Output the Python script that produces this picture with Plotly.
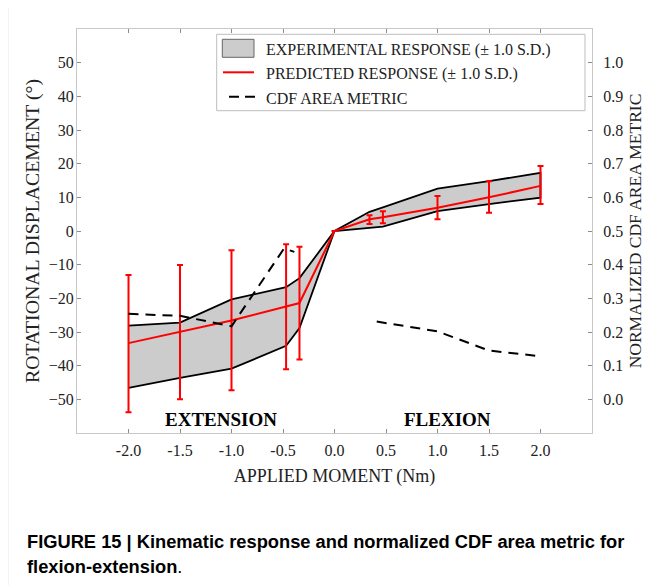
import plotly.graph_objects as go

# ---- data ----
moment = [-2.0, -1.5, -1.0, -0.47, -0.34, 0.0, 0.34, 0.47, 1.0, 1.5, 2.0]
exp_upper = [-28.1, -27.2, -20.3, -16.7, -14.0, 0.0, 5.7, 7.0, 12.6, 14.8, 17.3]
exp_lower = [-46.6, -43.6, -40.9, -34.1, -28.8, 0.0, 1.0, 1.3, 5.9, 8.0, 9.9]
pred_mean = [-33.3, -30.0, -26.6, -22.4, -21.4, 0.0, 3.5, 4.1, 6.9, 10.0, 13.4]
pred_upper = [-13.1, -10.1, -5.7, -3.9, -4.7, None, 4.7, 5.9, 10.4, 14.8, 19.3]
pred_lower = [-53.8, -50.0, -47.3, -41.1, -38.2, None, 2.1, 2.3, 3.5, 5.4, 8.0]
cdf_moment = [-2.0, -1.5, -1.0, -0.49, -0.39, None, 0.41, 1.0, 1.5, 2.0]
cdf_metric = [0.254, 0.248, 0.217, 0.448, 0.438, None, 0.231, 0.202, 0.145, 0.128]

x_ticks = [-2.0, -1.5, -1.0, -0.5, 0.0, 0.5, 1.0, 1.5, 2.0]
y_ticks = [-50, -40, -30, -20, -10, 0, 10, 20, 30, 40, 50]
y2_ticks = [0.0, 0.1, 0.2, 0.3, 0.4, 0.5, 0.6, 0.7, 0.8, 0.9, 1.0]

legend_labels = ["EXPERIMENTAL RESPONSE (± 1.0 S.D.)",
                 "PREDICTED RESPONSE (± 1.0 S.D.)",
                 "CDF AREA METRIC"]

err_plus = [None if u is None else round(u - m, 3) for u, m in zip(pred_upper, pred_mean)]
err_minus = [None if l is None else round(m - l, 3) for l, m in zip(pred_lower, pred_mean)]

SERIF = "Liberation Serif, Times New Roman, serif"
CAP = "Liberation Sans, Arial, sans-serif"
AXIS_GRAY = "#c8c8c8"
TICK_GRAY = "#8a8a8a"

# page offset of the plotly div (body margin) and plot-area geometry
OFF = 8
W, H = 656, 585
ML, MR, MT, MB = 69, 72, 21, 160
PL, PT = ML + OFF, MT + OFF
PW, PH = W - ML - MR, H - MT - MB


def px(X):
    return (X - PL) / PW


def py(Y):
    return (PT + PH - Y) / PH


fig = go.Figure()

# experimental band
fig.add_trace(go.Scatter(
    x=moment + moment[::-1],
    y=exp_upper + exp_lower[::-1],
    fill="toself", fillcolor="#cccccc",
    line=dict(color="black", width=1.8),
    mode="lines", name=legend_labels[0], showlegend=False, hoverinfo="skip",
))

# CDF area metric (secondary axis)
fig.add_trace(go.Scatter(
    x=cdf_moment, y=cdf_metric, yaxis="y2",
    mode="lines", line=dict(color="black", width=2, dash="10px,7px"),
    connectgaps=False, name=legend_labels[2], showlegend=False,
))

# predicted response
fig.add_trace(go.Scatter(
    x=moment, y=pred_mean, mode="lines",
    line=dict(color="#ff0000", width=2),
    error_y=dict(type="data", symmetric=False, array=err_plus, arrayminus=err_minus,
                 color="#ff0000", thickness=2, width=3),
    name=legend_labels[1], showlegend=False,
))

# region labels
fig.add_annotation(x=-1.1, y=-55.9, xref="x", yref="y", text="<b>EXTENSION</b>",
                   showarrow=False, font=dict(family=SERIF, size=19, color="black"))
fig.add_annotation(x=1.1, y=-55.9, xref="x", yref="y", text="<b>FLEXION</b>",
                   showarrow=False, font=dict(family=SERIF, size=19, color="black"))

# ---- legend box (drawn) ----
fig.add_shape(type="rect", xref="paper", yref="paper",
              x0=px(216.7), x1=px(585), y0=py(110.7), y1=py(34.3),
              line=dict(color="#bdbdbd", width=1), fillcolor="white", layer="above")
fig.add_shape(type="rect", xref="paper", yref="paper",
              x0=px(222.3), x1=px(254), y0=py(57.3), y1=py(39.3),
              line=dict(color="#666666", width=1), fillcolor="#cccccc", layer="above")
fig.add_shape(type="line", xref="paper", yref="paper",
              x0=px(223), x1=px(254), y0=py(72.3), y1=py(72.3),
              line=dict(color="#ff0000", width=2), layer="above")
fig.add_shape(type="line", xref="paper", yref="paper",
              x0=px(229), x1=px(255), y0=py(96.7), y1=py(96.7),
              line=dict(color="black", width=2, dash="10px,6px"), layer="above")
for label, yc in zip(legend_labels, [49.5, 74.0, 98.5]):
    fig.add_annotation(x=px(264), y=py(yc), xref="paper", yref="paper",
                       xanchor="left", yanchor="middle", text=label, showarrow=False,
                       font=dict(family=SERIF, size=16, color="#222222"))

# ---- caption ----
fig.add_annotation(x=px(25), y=py(541.5), xref="paper", yref="paper", xanchor="left", yanchor="middle",
                   text="<b>FIGURE 15 | Kinematic response and normalized CDF area metric for</b>",
                   showarrow=False, font=dict(family=CAP, size=18.3, color="black"))
fig.add_annotation(x=px(25), y=py(566.5), xref="paper", yref="paper", xanchor="left", yanchor="middle",
                   text="<b>flexion-extension</b>.",
                   showarrow=False, font=dict(family=CAP, size=18.3, color="black"))

# outer frame (left and top edges visible)
fig.add_shape(type="rect", xref="paper", yref="paper",
              x0=px(7.3), x1=px(700), y0=py(640), y1=py(7.3),
              line=dict(color="black", width=1.5), fillcolor="rgba(0,0,0,0)", layer="above")

fig.update_layout(
    width=W, height=H,
    margin=dict(l=ML, r=MR, t=MT, b=MB),
    paper_bgcolor="white", plot_bgcolor="white",
    font=dict(family=SERIF, size=16, color="#222222"),
    showlegend=False,
    xaxis=dict(range=[-2.5, 2.5], tickvals=x_ticks, ticktext=[f"{v:.1f}" for v in x_ticks],
               ticks="inside", ticklen=4, tickcolor=TICK_GRAY, showline=True, linecolor=AXIS_GRAY,
               mirror="ticks", showgrid=False, zeroline=False, ticklabelstandoff=3,
               title=dict(text="APPLIED MOMENT (Nm)", font=dict(size=18), standoff=11)),
    yaxis=dict(range=[-60, 60], tickvals=y_ticks, ticks="inside", ticklen=4, tickcolor=TICK_GRAY,
               showline=True, linecolor=AXIS_GRAY, mirror=True, showgrid=False, zeroline=False,
               ticklabelstandoff=-1,
               title=dict(text="ROTATIONAL DISPLACEMENT (°)", font=dict(size=19.8), standoff=3)),
    yaxis2=dict(range=[-0.1, 1.1], tickvals=y2_ticks, ticktext=[f"{v:.1f}" for v in y2_ticks],
                overlaying="y", side="right", ticks="inside", ticklen=4, tickcolor=TICK_GRAY,
                showline=True, linecolor=AXIS_GRAY, showgrid=False, zeroline=False,
                ticklabelstandoff=7,
                title=dict(text="NORMALIZED CDF AREA METRIC", font=dict(size=17.5), standoff=6)),
)

fig.write_html("out.html")
